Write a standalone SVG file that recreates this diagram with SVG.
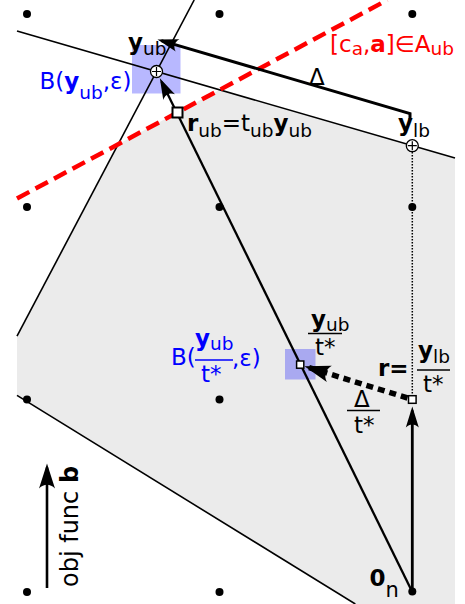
<svg xmlns="http://www.w3.org/2000/svg" width="465" height="604" viewBox="0 0 465 604">
<style>
text{font-family:"DejaVu Sans","Liberation Sans",sans-serif;font-size:23px;fill:#000}
.b{font-weight:bold}
.s{font-size:18.5px}
.blue{fill:#0000ff}
.red{fill:#ff0000}
.thin{stroke:#000;stroke-width:1.6;fill:none}
.dot{fill:#000}
.bar{stroke:#000;stroke-width:1.4}
.bbar{stroke:#0000ff;stroke-width:1.4}
.ball{fill:#0000ff;fill-opacity:0.28}
.sq{fill:#fff;stroke:#000}
.pt{fill:#fff;stroke:#000;stroke-width:1.3}
</style>
<defs>
<marker id="ah" markerUnits="userSpaceOnUse" orient="auto" overflow="visible" markerWidth="30" markerHeight="30" refX="0" refY="0">
<path d="M4,0 L-17,-6.5 C-13,-2.5 -13,2.5 -17,6.5 Z" fill="#000"/>
</marker>
<marker id="ahb" markerUnits="userSpaceOnUse" orient="auto" overflow="visible" markerWidth="30" markerHeight="30" refX="0" refY="0">
<path d="M4,0 L-22,-8.5 C-17,-3 -17,3 -22,8.5 Z" fill="#000"/>
</marker>
<marker id="aho" markerUnits="userSpaceOnUse" orient="auto" overflow="visible" markerWidth="30" markerHeight="30" refX="0" refY="0">
<path d="M4,0 L-21,-8 C-16,-3 -16,3 -21,8 Z" fill="#000"/>
</marker>
</defs>

<g id="region">
<polygon points="118.2,144.2 219.7,89.8 455,158.1 455,604 355.3,604 17,395.4 17,336.2" fill="#ebebeb"/>
</g>

<g id="balls">
<rect class="ball" x="132" y="45" width="48.5" height="48.5"/>
<rect class="ball" x="285" y="349" width="30.5" height="30.5"/>
</g>

<g id="connectors">
<line class="thin" x1="17" y1="31" x2="455" y2="158.1"/>
<line class="thin" x1="194.2" y1="0" x2="17" y2="336.2"/>
<line class="thin" x1="17" y1="395.4" x2="355.3" y2="604"/>
<line x1="17" y1="198.5" x2="387.3" y2="0" stroke="#ff0000" stroke-width="4.5" stroke-dasharray="14 7"/>
<line x1="412.3" y1="152" x2="412.3" y2="395.5" stroke="#000" stroke-width="1.5" stroke-dasharray="1.5 1.5"/>
<path d="M412.3,592 L161.6,81.8" stroke="#000" stroke-width="2.3" fill="none" marker-end="url(#ah)"/>
<polyline points="410,119.5 410,113.5 161.3,40.6" stroke="#000" stroke-width="3" fill="none" marker-end="url(#ah)"/>
<path d="M412.3,592 V410.5" stroke="#000" stroke-width="2.8" fill="none" marker-end="url(#ah)"/>
<path d="M407.5,398 L308.3,367.4" stroke="#000" stroke-width="5.5" stroke-dasharray="7 5" fill="none" marker-end="url(#ahb)"/>
<path d="M47,588 V467.5" stroke="#000" stroke-width="2.6" fill="none" marker-end="url(#aho)"/>
</g>

<g id="grid">
<circle class="dot" cx="27" cy="14" r="4"/>
<circle class="dot" cx="219.5" cy="14" r="4"/>
<circle class="dot" cx="412.3" cy="14" r="4"/>
<circle class="dot" cx="27" cy="207" r="4"/>
<circle class="dot" cx="219.5" cy="207" r="4"/>
<circle class="dot" cx="412.3" cy="207" r="4"/>
<circle class="dot" cx="27" cy="399.5" r="4"/>
<circle class="dot" cx="219.5" cy="399.5" r="4"/>
<circle class="dot" cx="27" cy="592" r="4"/>
<circle class="dot" cx="219.5" cy="592" r="4"/>
</g>

<g id="origin">
<circle class="dot" cx="412.3" cy="591.5" r="4"/>
<text x="369.5" y="586"><tspan class="b">0</tspan><tspan style="font-size:21px" dy="11">n</tspan></text>
</g>

<g id="y_ub">
<circle class="pt" cx="156.5" cy="71.5" r="6"/>
<path d="M152,71.5 H161 M156.5,67 V76" stroke="#000" stroke-width="1.2"/>
<text x="128" y="49.5"><tspan class="b">y</tspan><tspan class="s" dy="5.5">ub</tspan></text>
<text class="blue" x="39.5" y="89">B(<tspan class="b">y</tspan><tspan class="s" dy="10">ub</tspan><tspan dy="-10">,ε)</tspan></text>
</g>

<g id="y_lb">
<circle class="pt" cx="412.3" cy="145.7" r="6"/>
<path d="M407.8,145.7 H416.8 M412.3,141.2 V150.2" stroke="#000" stroke-width="1.2"/>
<text x="398" y="131"><tspan class="b">y</tspan><tspan class="s" dy="5.5">lb</tspan></text>
</g>

<g id="r_ub">
<rect class="sq" x="172.5" y="107.5" width="10" height="10" stroke-width="2"/>
<text x="187" y="131"><tspan class="b">r</tspan><tspan class="s" dy="5.7">ub</tspan><tspan dy="-5.7">=t</tspan><tspan class="s" dy="5.7">ub</tspan><tspan class="b" dy="-5.7">y</tspan><tspan class="s" dy="5.7">ub</tspan></text>
</g>

<g id="cut">
<text class="red" x="330" y="51.5">[c<tspan class="s" dy="3.5">a</tspan><tspan dy="-3.5">,</tspan><tspan class="b">a</tspan>]∈A<tspan class="s" dy="3.5">ub</tspan></text>
</g>

<g id="delta">
<text x="309" y="85">Δ</text>
</g>

<g id="y_ub_t">
<rect class="sq" x="296.6" y="361" width="7.2" height="7.2" stroke-width="1.5"/>
<text x="311" y="327"><tspan class="b">y</tspan><tspan class="s" dy="4">ub</tspan></text>
<line class="bar" x1="308" y1="333.5" x2="342" y2="333.5"/>
<text x="315" y="355">t*</text>
<text class="blue" x="171" y="365">B(</text>
<text class="blue" x="195" y="346"><tspan class="b">y</tspan><tspan class="s" dy="4">ub</tspan></text>
<line class="bbar" x1="195" y1="360" x2="233" y2="360"/>
<text class="blue" x="201" y="381.5">t*</text>
<text class="blue" x="232" y="366">,ε)</text>
</g>

<g id="r">
<rect class="sq" x="408.5" y="395.7" width="7.6" height="7.6" stroke-width="1.5"/>
<text x="378" y="376"><tspan class="b">r=</tspan></text>
<text x="418" y="358"><tspan class="b">y</tspan><tspan class="s" dy="5">lb</tspan></text>
<line class="bar" x1="417" y1="370" x2="450" y2="370"/>
<text x="423" y="391.5">t*</text>
</g>

<g id="delta_t">
<text x="354" y="406.5">Δ</text>
<line class="bar" x1="347" y1="410.5" x2="380" y2="410.5"/>
<text x="354" y="433">t*</text>
</g>

<g id="objfunc">
<text transform="translate(78,587) rotate(-90)" style="font-size:24px">obj func <tspan class="b">b</tspan></text>
</g>
</svg>
